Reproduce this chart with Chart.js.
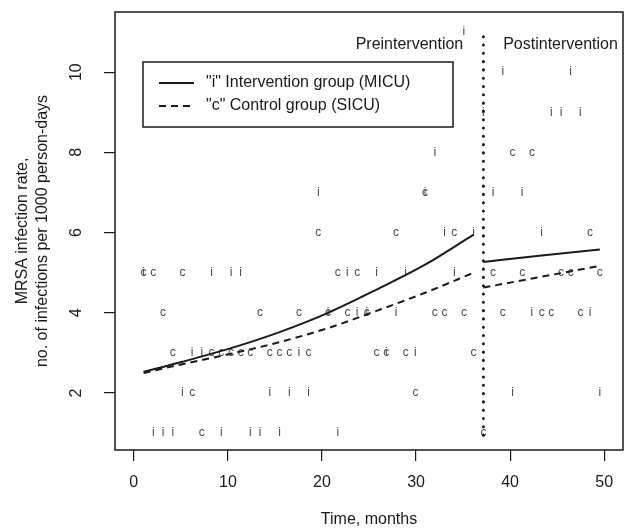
<!DOCTYPE html>
<html>
<head>
<meta charset="utf-8">
<script src="https://cdn.jsdelivr.net/npm/chart.js@4.4.1/dist/chart.umd.min.js"></script>
<style>
  html, body { margin: 0; padding: 0; background: #fff; }
  #wrap { width: 639px; height: 529px; }
</style>
</head>
<body>
<div id="wrap"><canvas id="mrsaChart" width="639" height="529"></canvas></div>
<script>
// where each monthly observation (month 1..48) sits on the time axis
const monthX = [1.04, 2.07, 3.11, 4.14, 5.17, 6.20, 7.23, 8.27, 9.30, 10.33, 11.36, 12.39,
  13.42, 14.46, 15.49, 16.52, 17.55, 18.58, 19.61, 20.65, 21.68, 22.71, 23.74, 24.77,
  25.81, 26.84, 27.87, 28.90, 29.93, 30.96, 32.00, 33.03, 34.06, 35.09, 36.12, 37.16,
  38.19, 39.22, 40.25, 41.28, 42.32, 43.35, 44.38, 45.41, 46.44, 47.47, 48.50, 49.54];

// "i" = intervention group (MICU), "c" = control group (SICU)
const rateI = [5, 1, 1, 1, 2, 3, 3, 5, 1, 5, 5, 1, 1, 2, 1, 2, 3, 2, 7, 4, 1, 5, 4, 4,
  5, 3, 4, 5, 3, 7, 8, 6, 5, 11, 6, 9, 7, 10, 2, 7, 4, 6, 9, 9, 10, 9, 4, 2];
const rateC = [5, 5, 4, 3, 5, 2, 1, 3, 3, 3, 3, 3, 4, 3, 3, 3, 4, 3, 6, 4, 5, 4, 5, 4,
  3, 3, 6, 3, 2, 7, 4, 4, 6, 4, 3, 1, 5, 4, 8, 5, 8, 4, 4, 5, 5, 4, 6, 5];

// fitted trends
const fitPreX = [1.04, 5.17, 10.33, 15.49, 20.65, 25.81, 30.96, 36.12];
const fitPreI = [2.53, 2.78, 3.12, 3.52, 4.0, 4.58, 5.2, 5.95];
const fitPreC = [2.5, 2.72, 2.98, 3.27, 3.62, 4.05, 4.5, 5.0];
const fitPostX = [37.16, 43.35, 49.54];
const fitPostI = [5.27, 5.43, 5.58];
const fitPostC = [4.63, 4.9, 5.17];

const xTicks = [0, 10, 20, 30, 40, 50];
const yTicks = [2, 4, 6, 8, 10];
const interventionX = 37.16;

const FONT = '"Liberation Sans", Arial, sans-serif';
const INK = '#1a1a1a';

const pts = (xs, ys) => xs.map((x, k) => ({ x: x, y: ys[k] }));

function fitLine(xs, ys, dash) {
  return {
    data: pts(xs, ys),
    showLine: true,
    borderColor: INK,
    borderWidth: 2,
    borderDash: dash,
    pointRadius: 0,
    cubicInterpolationMode: 'monotone'
  };
}

// letters i / c at the points, plus box, legend and labels
const extras = {
  id: 'extras',
  beforeDatasetsDraw(chart) {
    const c = chart.ctx;
    c.save();
    c.font = '12px ' + FONT;
    c.fillStyle = '#4a4a4a';
    c.textAlign = 'center';
    c.textBaseline = 'middle';
    chart.data.datasets.forEach((ds, d) => {
      if (!ds.letter) return;
      chart.getDatasetMeta(d).data.forEach(p => c.fillText(ds.letter, p.x, p.y));
    });
    c.restore();
  },
  afterDatasetsDraw(chart) {
    const c = chart.ctx;
    const a = chart.chartArea;
    const x = chart.scales.x, y = chart.scales.y;
    c.save();
    c.strokeStyle = INK;
    c.fillStyle = INK;
    c.lineWidth = 1.5;
    c.strokeRect(a.left, a.top, a.right - a.left, a.bottom - a.top);

    // y tick labels, turned like the axis
    c.font = '16px ' + FONT;
    c.textAlign = 'center';
    c.textBaseline = 'middle';
    yTicks.forEach(v => {
      c.save();
      c.translate(a.left - 38, y.getPixelForValue(v));
      c.rotate(-Math.PI / 2);
      c.fillText(String(v), 0, 0);
      c.restore();
    });

    // y title, two lines
    c.save();
    c.translate(0, (a.top + a.bottom) / 2);
    c.rotate(-Math.PI / 2);
    c.fillText('MRSA infection rate,', 0, 23);
    c.fillText('no. of infections per 1000 person-days', 0, 43);
    c.restore();

    // period labels
    c.fillText('Preintervention', x.getPixelForValue(29.3), y.getPixelForValue(10.68));
    c.fillText('Postintervention', x.getPixelForValue(45.36), y.getPixelForValue(10.68));

    // legend
    const lx = a.left + 28, ly = a.top + 50;
    c.fillStyle = '#fff';
    c.fillRect(lx, ly, 310, 65);
    c.strokeRect(lx, ly, 310, 65);
    c.fillStyle = INK;
    c.lineWidth = 2;
    c.beginPath();
    c.moveTo(lx + 16, ly + 21); c.lineTo(lx + 51, ly + 21);
    c.stroke();
    c.setLineDash([7, 5]);
    c.beginPath();
    c.moveTo(lx + 16, ly + 44); c.lineTo(lx + 51, ly + 44);
    c.stroke();
    c.setLineDash([]);
    c.textAlign = 'left';
    c.fillText('"i" Intervention group (MICU)', lx + 63, ly + 21);
    c.fillText('"c" Control group (SICU)', lx + 63, ly + 44);
    c.restore();
  }
};

new Chart(document.getElementById('mrsaChart'), {
  type: 'scatter',
  data: {
    datasets: [
      { letter: 'i', data: pts(monthX, rateI), pointRadius: 0, showLine: false },
      { letter: 'c', data: pts(monthX, rateC), pointRadius: 0, showLine: false },
      fitLine(fitPreX, fitPreI, []),
      fitLine(fitPostX, fitPostI, []),
      fitLine(fitPreX, fitPreC, [7, 5]),
      fitLine(fitPostX, fitPostC, [7, 5]),
      {
        data: [{ x: interventionX, y: 0.95 }, { x: interventionX, y: 10.95 }],
        showLine: true,
        borderColor: INK,
        borderWidth: 3,
        borderDash: [0.1, 8.2],
        borderCapStyle: 'round',
        pointRadius: 0
      }
    ]
  },
  options: {
    responsive: false,
    animation: false,
    devicePixelRatio: 1,
    layout: { padding: { top: 12, right: 16, bottom: 0, left: 0 } },
    plugins: { legend: { display: false }, tooltip: { enabled: false } },
    scales: {
      x: {
        type: 'linear',
        min: -2,
        max: 52,
        afterBuildTicks: s => { s.ticks = xTicks.map(v => ({ value: v })); },
        afterFit: s => { s.height = 79; },
        border: { display: false },
        grid: { drawOnChartArea: false, drawTicks: true, tickLength: 11, color: INK, lineWidth: 1.2 },
        ticks: { color: INK, font: { family: FONT, size: 16 }, padding: 12, maxRotation: 0 },
        title: {
          display: true,
          text: 'Time, months',
          color: INK,
          font: { family: FONT, size: 16 },
          padding: { top: 0, bottom: 0 }
        }
      },
      y: {
        type: 'linear',
        min: 0.58,
        max: 11.5,
        afterBuildTicks: s => { s.ticks = yTicks.map(v => ({ value: v })); },
        afterFit: s => { s.width = 115; },
        border: { display: false },
        grid: { drawOnChartArea: false, drawTicks: true, tickLength: 11, color: INK, lineWidth: 1.2 },
        ticks: { display: false }
      }
    }
  },
  plugins: [extras]
});
</script>
</body>
</html>
